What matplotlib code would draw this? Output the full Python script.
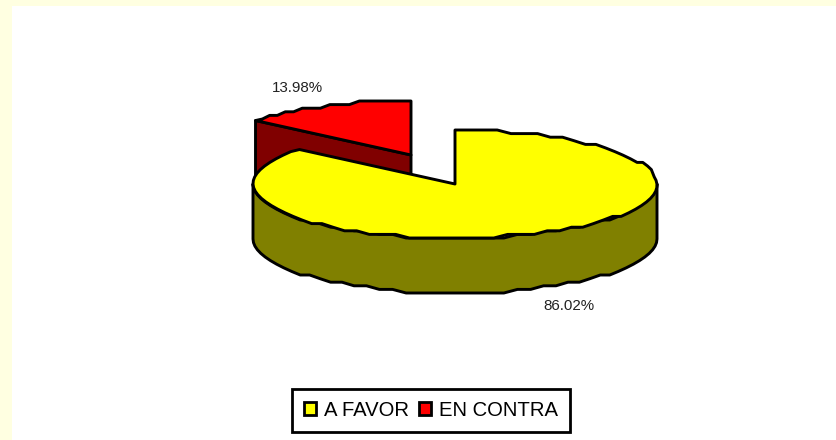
import numpy as np
import matplotlib
matplotlib.use('Agg')
import matplotlib.pyplot as plt
from matplotlib.patches import Polygon, Patch, Rectangle

categorias = ['A FAVOR', 'EN CONTRA']
porcentajes = [86.02, 13.98]
etiquetas = ['86.02%', '13.98%']

# colores: cara superior y lateral
superior = ['#FFFF00', '#FF0000']
lateral = ['#808000', '#800000']

cx, cy = 455, 184
rx, ry = 202, 54
prof = 55
sep = (-44, -29)  # desplazamiento de la porcion separada
paso_y = 3.6


def borde(a0, a1, n, ox=0, oy=0):
    # angulos en grados, desde las 12 en sentido horario
    t = np.radians(np.linspace(a0, a1, n))
    x = cx + ox + rx * np.sin(t)
    y = cy + oy - ry * np.cos(t)
    # el original tiene el borde escalonado
    y = cy + oy + np.round((y - cy - oy) / paso_y) * paso_y
    y[0] = cy + oy - ry * np.cos(t[0])
    y[-1] = cy + oy - ry * np.cos(t[-1])
    return np.column_stack([x, y])


fig = plt.figure(figsize=(8.37, 4.40), dpi=100, facecolor='#FFFFE1')
ax = fig.add_axes([0, 0, 1, 1])
ax.set_xlim(0, 837)
ax.set_ylim(440, 0)
ax.axis('off')
ax.add_patch(Rectangle((12, 6), 825, 434, fc='white', ec='none', zorder=0))

fin_amarillo = 360 * porcentajes[0] / sum(porcentajes)

# porcion roja separada
ox, oy = sep
ap = np.array([cx + ox, cy + oy])
arco = borde(fin_amarillo, 360, 18, ox, oy)
cara = np.array([arco[0], ap, ap + [0, prof], arco[0] + [0, prof]])
ax.add_patch(Polygon(cara, fc=lateral[1], ec='black', lw=2.1, joinstyle='round', zorder=1))
ax.add_patch(Polygon(np.vstack([ap, arco]), fc=superior[1], ec='black', lw=2.1, joinstyle='round', zorder=2))

# porcion amarilla: pared frontal y tapa
frente = borde(90, 270, 46)
pared = np.vstack([frente, (frente + [0, prof])[::-1]])
ax.add_patch(Polygon(pared, fc=lateral[0], ec='black', lw=2.1, joinstyle='round', zorder=3))
arco = borde(0, fin_amarillo, 78)
ax.add_patch(Polygon(np.vstack([[cx, cy], arco]), fc=superior[0], ec='black', lw=2.1, joinstyle='round', zorder=4))

ax.text(569, 306, etiquetas[0], fontsize=10.9, family='Liberation Sans', color='#222222',
        ha='center', va='center', zorder=5)
ax.text(297, 88, etiquetas[1], fontsize=10.9, family='Liberation Sans', color='#222222',
        ha='center', va='center', zorder=5)

marcas = [Patch(fc=c, ec='black', lw=2) for c in superior]
ley = ax.legend(marcas, categorias, loc='center', bbox_to_anchor=(431 / 837, 1 - 410.5 / 440),
                bbox_transform=fig.transFigure, ncol=2, fancybox=False, framealpha=1,
                edgecolor='black', handlelength=0.6, handleheight=0.6, handletextpad=0.4,
                columnspacing=0.45, borderpad=0.6, borderaxespad=0,
                prop={'family': 'Liberation Sans', 'size': 14.6})
ley.get_frame().set_linewidth(2)
ley.set_zorder(6)

fig.savefig('out.png', dpi=100, facecolor=fig.get_facecolor())
